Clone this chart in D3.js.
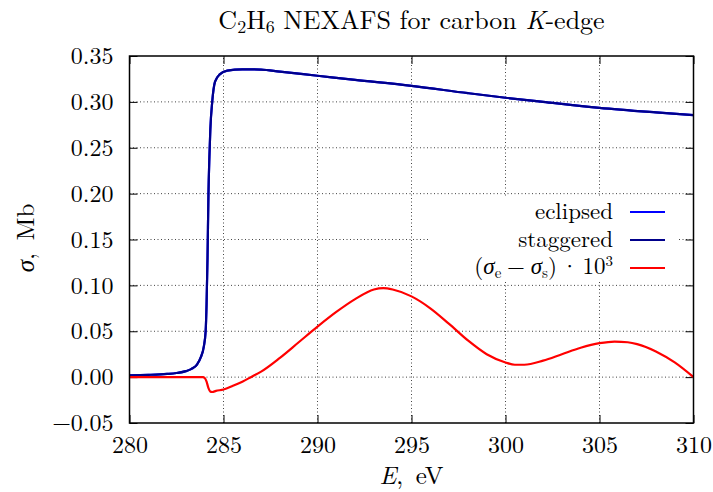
<!DOCTYPE html>
<html lang="en">
<head>
<meta charset="UTF-8">
<title>C2H6 NEXAFS</title>
<script src="https://cdn.jsdelivr.net/npm/d3@7"></script>
<style>
  body { margin: 0; background: #fff; }
</style>
</head>
<body>
<script>
// energies (eV) and cross sections (Mb)
var energy = [280, 281, 282, 282.5, 283, 283.3, 283.6, 283.8, 283.95, 284.05, 284.1, 284.15, 284.2, 284.25, 284.3, 284.4, 284.55, 284.8, 285.2, 286, 287, 288, 290, 292, 295, 298, 300, 302, 305, 308, 310];
var sigmaEclipsed = [0.002, 0.0025, 0.0035, 0.0045, 0.0065, 0.009, 0.014, 0.022, 0.033, 0.05, 0.08, 0.13, 0.2, 0.24, 0.27, 0.3, 0.322, 0.33, 0.334, 0.3355, 0.3352, 0.333, 0.3285, 0.324, 0.3175, 0.3095, 0.3045, 0.3, 0.2935, 0.2885, 0.2855];
var sigmaStaggered = [0.002, 0.0025, 0.0035, 0.0045, 0.0065, 0.009, 0.014, 0.022, 0.033, 0.05, 0.08, 0.13, 0.2, 0.24, 0.27, 0.3, 0.322, 0.33, 0.334, 0.3355, 0.3352, 0.333, 0.3285, 0.324, 0.3175, 0.3095, 0.3045, 0.3, 0.2935, 0.2885, 0.2855];

var diffEnergy = [280, 283, 283.9, 284.0, 284.1, 284.2, 284.3, 284.4, 284.6, 285, 285.5, 286, 286.5, 287, 288, 289, 290, 291, 292, 293, 293.5, 294, 295, 296, 297, 298, 299, 300, 300.5, 301, 302, 303, 304, 305, 305.8, 306.5, 307, 308, 309, 310];
var diffValues = [0, 0, 0, -0.001, -0.005, -0.012, -0.0158, -0.0162, -0.015, -0.0135, -0.0095, -0.005, 0.0005, 0.006, 0.021, 0.038, 0.055, 0.071, 0.085, 0.0955, 0.097, 0.0955, 0.088, 0.075, 0.058, 0.04, 0.025, 0.016, 0.0135, 0.0135, 0.018, 0.025, 0.032, 0.037, 0.0388, 0.038, 0.036, 0.028, 0.016, 0.0];

var xTicks = [280, 285, 290, 295, 300, 305, 310];
var yTicks = [-0.05, 0, 0.05, 0.10, 0.15, 0.20, 0.25, 0.30, 0.35];

var FONT = "'Latin Modern Roman', 'Liberation Serif', serif";
var FS = 24;
var width = 713, height = 492;
var margin = {left: 129.5, right: 19.5, top: 56, bottom: 69};

var svg = d3.select("body").append("svg")
    .attr("width", width)
    .attr("height", height);

var x = d3.scaleLinear().domain([280, 310]).range([margin.left, width - margin.right]);
var y = d3.scaleLinear().domain([-0.05, 0.35]).range([height - margin.bottom, margin.top]);

var x0 = x.range()[0], x1 = x.range()[1], y0 = y.range()[0], y1 = y.range()[1];

// grid lines
var grid = svg.append("g").attr("stroke", "#444").attr("stroke-width", 1).attr("stroke-dasharray", "1,2.5");
grid.selectAll("line.gx").data(xTicks.slice(1, -1)).enter().append("line")
    .attr("x1", function(d) { return x(d); }).attr("x2", function(d) { return x(d); })
    .attr("y1", y0).attr("y2", y1);
grid.selectAll("line.gy").data(yTicks.slice(1, -1)).enter().append("line")
    .attr("x1", x0).attr("x2", x1)
    .attr("y1", function(d) { return y(d); }).attr("y2", function(d) { return y(d); });

// axes with inward ticks, mirrored
var fmtY = function(d) { return d < 0 ? "\u2212" + d3.format(".2f")(-d) : d3.format(".2f")(d); };
var tickLen = 8;

var bottom = svg.append("g").attr("transform", "translate(0," + y0 + ")")
    .call(d3.axisBottom(x).tickValues(xTicks).tickSizeInner(-tickLen).tickSizeOuter(0).tickPadding(13));
var top_ = svg.append("g").attr("transform", "translate(0," + y1 + ")")
    .call(d3.axisTop(x).tickValues(xTicks).tickSizeInner(-tickLen).tickSizeOuter(0).tickFormat(""));
var left = svg.append("g").attr("transform", "translate(" + x0 + ",0)")
    .call(d3.axisLeft(y).tickValues(yTicks).tickFormat(fmtY).tickSizeInner(-tickLen).tickSizeOuter(0).tickPadding(16));
var right = svg.append("g").attr("transform", "translate(" + x1 + ",0)")
    .call(d3.axisRight(y).tickValues(yTicks).tickSizeInner(-tickLen).tickSizeOuter(0).tickFormat(""));

[bottom, top_, left, right].forEach(function(g) {
    g.select(".domain").remove();
    g.selectAll(".tick line").attr("stroke", "#000").attr("stroke-width", 1);
    g.selectAll("text").attr("font-size", FS).style("font-family", FONT);
});

// legend background
svg.append("rect").attr("x", 430).attr("y", 198).attr("width", 248).attr("height", 84).attr("fill", "#fff");

// curves
var line = d3.line().curve(d3.curveMonotoneX)
    .x(function(d) { return x(d[0]); })
    .y(function(d) { return y(d[1]); });

var series = [
    {name: "eclipsed", xs: energy, ys: sigmaEclipsed, color: "#0000ff"},
    {name: "staggered", xs: energy, ys: sigmaStaggered, color: "#00008b"},
    {name: "diff", xs: diffEnergy, ys: diffValues, color: "#ff0000"}
];

var plot = svg.append("g");
plot.append("clipPath").attr("id", "clip").append("rect")
    .attr("x", x0).attr("y", y1).attr("width", x1 - x0).attr("height", y0 - y1);
series.forEach(function(s) {
    plot.append("path")
        .datum(d3.zip(s.xs, s.ys))
        .attr("clip-path", "url(#clip)")
        .attr("fill", "none")
        .attr("stroke", s.color)
        .attr("stroke-width", 2.2)
        .attr("stroke-linejoin", "round")
        .attr("d", line);
});

// helper for text in the document font
function label(parent, px, py, anchor, size) {
    return parent.append("text").attr("x", px).attr("y", py)
        .attr("text-anchor", anchor).attr("font-size", size || FS).style("font-family", FONT);
}

// legend
var legend = svg.append("g");
var rows = [212, 240, 268];
var LFS = 23;
series.forEach(function(s, i) {
    legend.append("line")
        .attr("x1", 630).attr("x2", 665)
        .attr("y1", rows[i]).attr("y2", rows[i])
        .attr("stroke", s.color).attr("stroke-width", 2.2);
});
label(legend, 613, rows[0] + 7, "end", LFS).text("eclipsed");
label(legend, 613, rows[1] + 7, "end", LFS).text("staggered");
var t3 = label(legend, 613, rows[2] + 6, "end", LFS);
t3.append("tspan").text("(");
t3.append("tspan").attr("font-style", "italic").text("σ");
t3.append("tspan").attr("font-size", 15).attr("dy", 4).text("e");
t3.append("tspan").attr("dy", -4).text("\u2005\u2212\u2005");
t3.append("tspan").attr("font-style", "italic").text("σ");
t3.append("tspan").attr("font-size", 15).attr("dy", 4).text("s");
t3.append("tspan").attr("dy", -4).text(")\u2006\u00b7\u200610");
t3.append("tspan").attr("font-size", 15).attr("dy", -8).text("3");

// frame
svg.append("rect").attr("x", x0).attr("y", y1).attr("width", x1 - x0).attr("height", y0 - y1)
    .attr("fill", "none").attr("stroke", "#000").attr("stroke-width", 1.5);

// title
var title = label(svg, (x0 + x1) / 2, 29, "middle", 26);
title.append("tspan").text("C");
title.append("tspan").attr("font-size", 18).attr("dy", 4).text("2");
title.append("tspan").attr("dy", -4).text("H");
title.append("tspan").attr("font-size", 18).attr("dy", 4).text("6");
title.append("tspan").attr("dy", -4).text(" NEXAFS for carbon ");
title.append("tspan").attr("font-style", "italic").text("K");
title.append("tspan").text("-edge");

// axis labels
var xl = label(svg, (x0 + x1) / 2, 484, "middle", 25);
xl.append("tspan").attr("font-style", "italic").text("E");
xl.append("tspan").text(",\u2002eV");

var yl = svg.append("text").attr("transform", "translate(34,238) rotate(-90)")
    .attr("text-anchor", "middle").attr("font-size", 25).style("font-family", FONT);
yl.append("tspan").attr("font-style", "italic").text("σ");
yl.append("tspan").text(",\u2002Mb");
</script>
</body>
</html>
